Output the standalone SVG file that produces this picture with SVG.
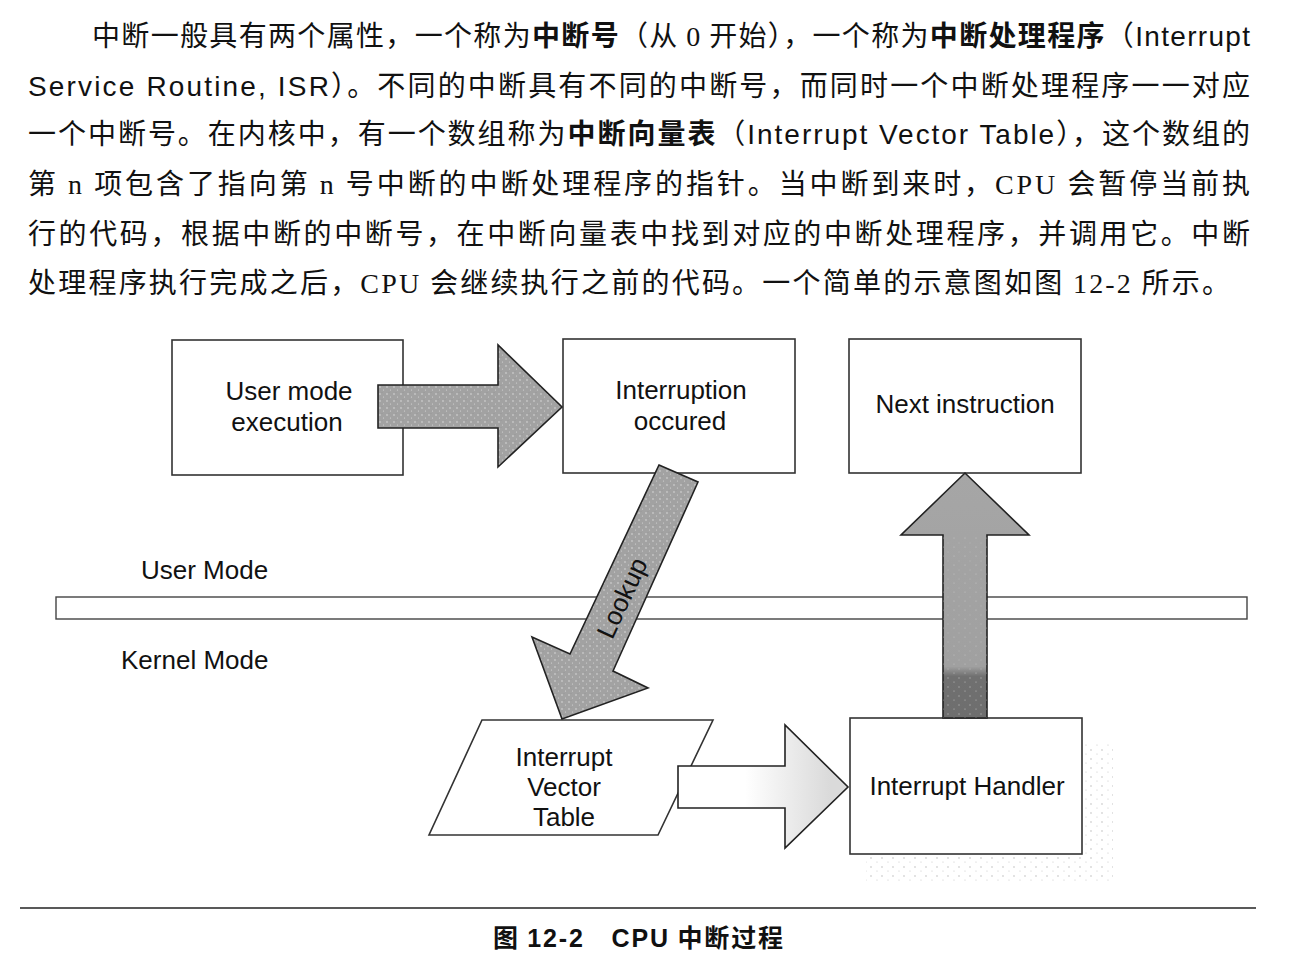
<svg xmlns="http://www.w3.org/2000/svg" width="1312" height="964" viewBox="0 0 1312 964">
<style>
.body{font-family:"Noto Sans CJK SC","Liberation Serif",sans-serif;font-size:28px;fill:#111}
.b{font-weight:bold}
.lat{font-family:"Liberation Sans",Arial,sans-serif}
.ser{font-family:"Liberation Serif","Times New Roman",serif}
.lbl{font-family:"Liberation Sans",Arial,sans-serif;font-size:26px;fill:#111;text-anchor:middle}
.mode{font-family:"Liberation Sans",Arial,sans-serif;font-size:26px;fill:#111}
.box{fill:#fff;stroke:#333;stroke-width:1.6}
.arrow{stroke:#222;stroke-width:1.6;stroke-linejoin:miter}
.cap{font-family:"Noto Sans CJK SC","Liberation Sans",sans-serif;font-size:25px;font-weight:bold;fill:#111}
</style>
<defs>
<pattern id="grain" width="7" height="7" patternUnits="userSpaceOnUse">
<rect width="7" height="7" fill="#a2a2a2"/>
<circle cx="2" cy="2" r="0.7" fill="#e6e6e6"/>
<circle cx="5.5" cy="5" r="0.6" fill="#d8d8d8"/>
<circle cx="4" cy="0.5" r="0.4" fill="#8a8a8a"/>
</pattern>
<linearGradient id="upg" gradientUnits="userSpaceOnUse" x1="0" y1="718" x2="0" y2="473">
<stop offset="0" stop-color="#6e6e6e"/>
<stop offset="0.17" stop-color="#707070"/>
<stop offset="0.21" stop-color="#a0a0a0"/>
<stop offset="1" stop-color="#a6a6a6"/>
</linearGradient>
<linearGradient id="lightg" gradientUnits="userSpaceOnUse" x1="745" y1="0" x2="830" y2="0">
<stop offset="0" stop-color="#ffffff"/>
<stop offset="1" stop-color="#dadada"/>
</linearGradient>
<pattern id="speck" width="11" height="9" patternUnits="userSpaceOnUse">
<circle cx="2" cy="3" r="0.7" fill="#b0b0b0"/>
<circle cx="8" cy="7" r="0.6" fill="#c4c4c4"/>
</pattern>
</defs>
<rect width="1312" height="964" fill="#fff"/>

<g id="paragraph">
<text class="body" x="92" y="46" textLength="1158" lengthAdjust="spacing">中断一般具有两个属性，一个称为<tspan class="b">中断号</tspan>（从 <tspan class="ser">0</tspan> 开始），一个称为<tspan class="b">中断处理程序</tspan>（<tspan class="lat">Interrupt</tspan></text>
<text class="body" x="28" y="96" textLength="1222" lengthAdjust="spacing"><tspan class="lat">Service Routine, ISR</tspan>）。不同的中断具有不同的中断号，而同时一个中断处理程序一一对应</text>
<text class="body" x="28" y="144" textLength="1222" lengthAdjust="spacing">一个中断号。在内核中，有一个数组称为<tspan class="b">中断向量表</tspan>（<tspan class="lat">Interrupt Vector Table</tspan>），这个数组的</text>
<text class="body" x="28" y="194" textLength="1222" lengthAdjust="spacing">第 <tspan class="ser">n</tspan> 项包含了指向第 <tspan class="ser">n</tspan> 号中断的中断处理程序的指针。当中断到来时，<tspan class="ser">CPU</tspan> 会暂停当前执</text>
<text class="body" x="28" y="244" textLength="1222" lengthAdjust="spacing">行的代码，根据中断的中断号，在中断向量表中找到对应的中断处理程序，并调用它。中断</text>
<text class="body" x="28" y="293" textLength="1202" lengthAdjust="spacing">处理程序执行完成之后，<tspan class="ser">CPU</tspan> 会继续执行之前的代码。一个简单的示意图如图 <tspan class="ser">12-2</tspan> 所示。</text>
</g>

<g id="mode-boundary">
<rect x="56" y="597" width="1191" height="22" fill="#fff" stroke="#444" stroke-width="1.4"/>
<text class="mode" x="141" y="579">User Mode</text>
<text class="mode" x="121" y="669">Kernel Mode</text>
</g>

<g id="node-user">
<rect class="box" x="172" y="340" width="231" height="135"/>
<text class="lbl" x="289" y="400">User mode</text>
<text class="lbl" x="287" y="431">execution</text>
</g>
<g id="node-interrupt">
<rect class="box" x="563" y="339" width="232" height="134"/>
<text class="lbl" x="681" y="399">Interruption</text>
<text class="lbl" x="680" y="430">occured</text>
</g>
<g id="node-next">
<rect class="box" x="849" y="339" width="232" height="134"/>
<text class="lbl" x="965" y="413">Next instruction</text>
</g>
<g id="node-ivt">
<polygon class="box" points="482,720 713,720 658,835 429,835"/>
<text class="lbl" x="564" y="766">Interrupt</text>
<text class="lbl" x="564" y="796">Vector</text>
<text class="lbl" x="564" y="826">Table</text>
</g>
<g id="node-handler">
<rect x="1085" y="742" width="28" height="140" fill="url(#speck)"/>
<rect x="866" y="857" width="219" height="26" fill="url(#speck)"/>
<rect class="box" x="850" y="718" width="232" height="136"/>
<text class="lbl" x="967" y="795">Interrupt Handler</text>
</g>

<g id="connectors">
<polygon class="arrow" fill="url(#grain)" points="378,385 498,385 498,345 562,407 498,467 498,428 378,428"/>
<g id="lookup">
<polygon class="arrow" fill="url(#grain)" points="659,465 698,482 613,671 648,688 562,719 532,637 570,654"/>
<text class="mode" x="0" y="0" text-anchor="middle" transform="translate(622,598) rotate(-65) translate(0,9)">Lookup</text>
</g>
<polygon class="arrow" fill="url(#lightg)" points="678,766 785,766 785,725 848,787 785,848 785,808 678,808"/>
<polygon class="arrow" fill="url(#upg)" points="943,718 943,535 901,535 965,473 1029,535 987,535 987,718"/>
<rect x="943" y="535" width="44" height="183" fill="url(#speck)" opacity="0.9"/>
</g>

<g id="caption">
<line x1="20" y1="908" x2="1256" y2="908" stroke="#222" stroke-width="1.6"/>
<text class="cap" x="493" y="947" textLength="290" lengthAdjust="spacing">图 <tspan class="lat">12-2</tspan>　<tspan class="lat">CPU</tspan> 中断过程</text>
</g>
</svg>
